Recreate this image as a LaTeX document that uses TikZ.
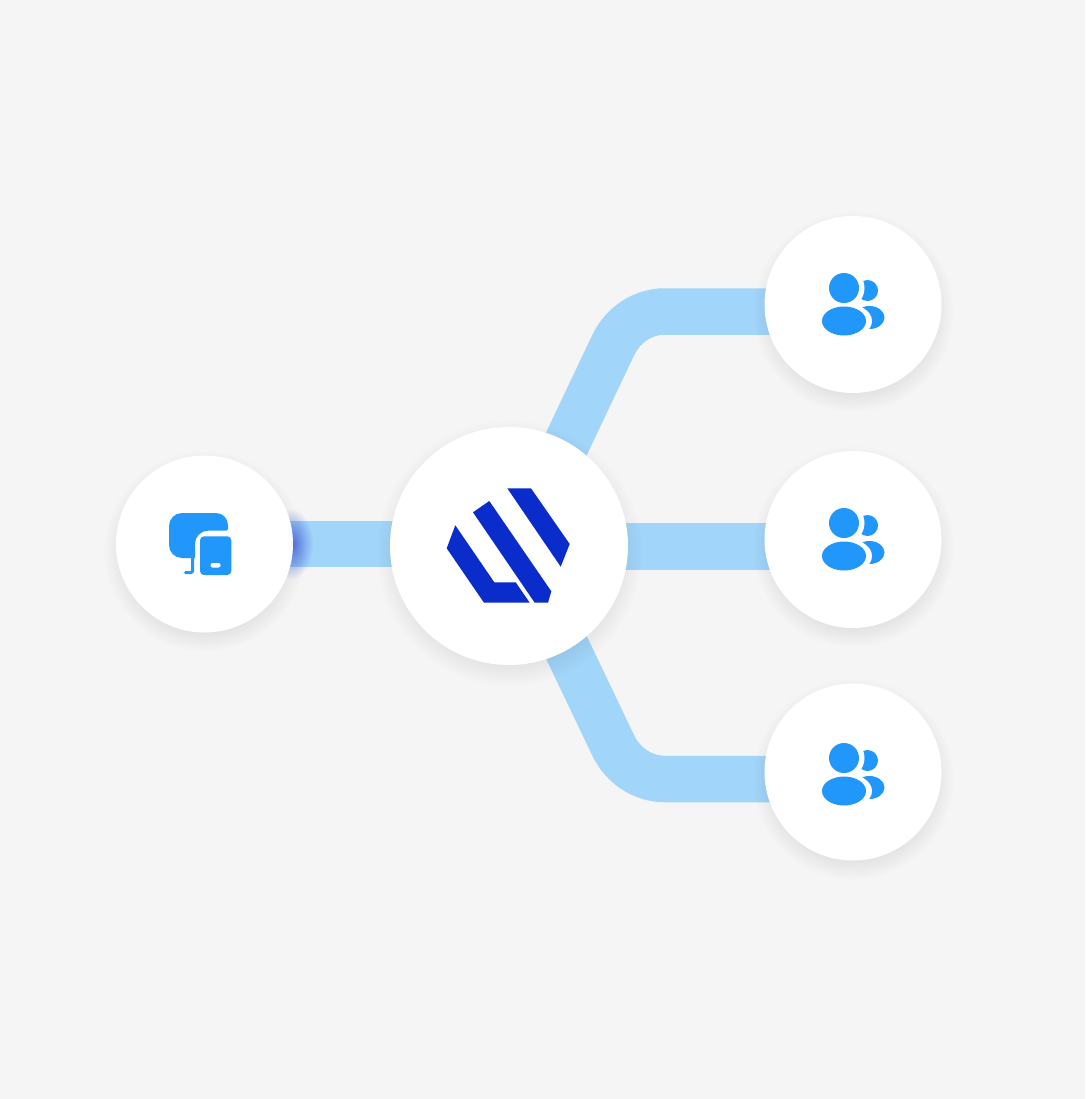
\documentclass[tikz,border=0pt]{standalone}
\usetikzlibrary{shadows,fadings}
\definecolor{backdrop}{HTML}{F5F5F5}
\definecolor{linkblue}{HTML}{A1D5F9}
\definecolor{iconblue}{HTML}{2196FB}
\definecolor{logoblue}{HTML}{0A2CCB}
\definecolor{glowblue}{HTML}{3A55D8}
\tikzfading[name=glow fade, inner color=transparent!25, outer color=transparent!100]
\pgfdeclareradialshading{soft shade}{\pgfpointorigin}{color(0bp)=(pgftransparent!0); color(20bp)=(pgftransparent!0); color(25bp)=(pgftransparent!100); color(50bp)=(pgftransparent!100)}
\pgfdeclarefading{soft fade}{\pgfuseshading{soft shade}}
\tikzset{
    raw circle/.style={circle, fill=white, inner sep=0pt},
    small circle/.style={raw circle, minimum size=177pt, general shadow={fill=black, path fading=soft fade, shadow xshift=0pt, shadow yshift=-6pt, shadow scale=1.14, opacity=.07}},
    hub circle/.style={raw circle, minimum size=238pt, general shadow={fill=black, path fading=soft fade, shadow xshift=0pt, shadow yshift=-6pt, shadow scale=1.12, opacity=.08}},
    link/.style={draw=linkblue, line width=46.5pt},
    logo bar/.style={fill=logoblue},
    icon part/.style={fill=iconblue},
    cut part/.style={fill=white},
    people icon/.pic={
        \fill[icon part] (14.5,-14) circle (10.5);
        \fill[cut part] (-9,-16.5) circle (20.5);
        \fill[icon part] (16.5,13) ellipse (15 and 11.5);
        \fill[cut part] (-9,16.5) ellipse (28 and 18);
        \fill[icon part] (-9,-16.5) circle (15);
        \fill[icon part] (-9,16.5) ellipse (22 and 14.5);
    }
}

\begin{document}
\begin{tikzpicture}[x=1pt,y=-1pt]
	\fill[backdrop] (0,0) rectangle (1085,1099);
	\useasboundingbox (0,0) rectangle (1085,1099);

	% links go first, the circles sit on top of them
	\node[inner sep=0pt] (device anchor) at (204.5,544) {};
	\node[inner sep=0pt] (hub anchor) at (509,546) {};
	\node[inner sep=0pt] (top anchor) at (853,304.5) {};
	\node[inner sep=0pt] (middle anchor) at (853,539.5) {};
	\node[inner sep=0pt] (bottom anchor) at (853,772) {};
	\draw[link] (device anchor.center) -- (device anchor.center -| hub anchor.center);
	\draw[link] ([xshift=9pt]hub anchor.center) -- (613,345.5) .. controls (622.6,325.1) and (642.5,311.5) .. (665,311.5) -- ([yshift=-7pt]top anchor.center);
	\draw[link] ([yshift=-7pt]middle anchor.center -| hub anchor.center) -- ([yshift=-7pt]middle anchor.center);
	\draw[link] ([xshift=9pt]hub anchor.center) -- (613,745) .. controls (622.6,765.4) and (642.5,779) .. (665,779) -- ([yshift=-7pt]bottom anchor.center);
	\fill[glowblue, path fading=glow fade] (292,544) ellipse (21 and 35);

	\node[small circle] (device) at (device anchor) {};
	\node[hub circle] (hub) at (hub anchor) {};
	\node[small circle] (top user) at (top anchor) {};
	\node[small circle] (middle user) at (middle anchor) {};
	\node[small circle] (bottom user) at (bottom anchor) {};

	% logo
	\fill[logo bar] (507.3,488.3) -- (531,488.3) -- (569.7,544) -- (560.7,566.7) -- cycle;
	\fill[logo bar] (473,512.3) -- (489.3,501) -- (551.3,591.3) -- (548,602.7) -- (534.7,602.7) -- cycle;
	\fill[logo bar] (455.3,525.3) -- (446.7,548.3) -- (484,602.7) -- (529.7,602.7) -- (515.7,582.3) -- (494.3,582.3) -- cycle;

	% screens
	\fill[icon part] (182,513) -- (216,513) arc (-90:0:12) -- (228,529) arc (0:90:1.7) -- (208,530.7) arc (-90:-180:13) -- (195,558) -- (182,558) arc (90:180:13) -- (169,526) arc (180:270:13) -- cycle;
	\draw[iconblue, line width=3pt, line cap=round, rounded corners=2pt] (192.7,557) -- (192.7,572.5) -- (185.5,572.5);
	\fill[icon part, rounded corners=4pt] (200,536.3) rectangle (231.3,575);
	\fill[cut part, rounded corners=2pt] (210.5,563) rectangle (220.5,567.5);

	\pic at (top user) {people icon};
	\pic at (middle user) {people icon};
	\pic at ([yshift=-2.5pt]bottom user.center) {people icon};
\end{tikzpicture}
\end{document}
